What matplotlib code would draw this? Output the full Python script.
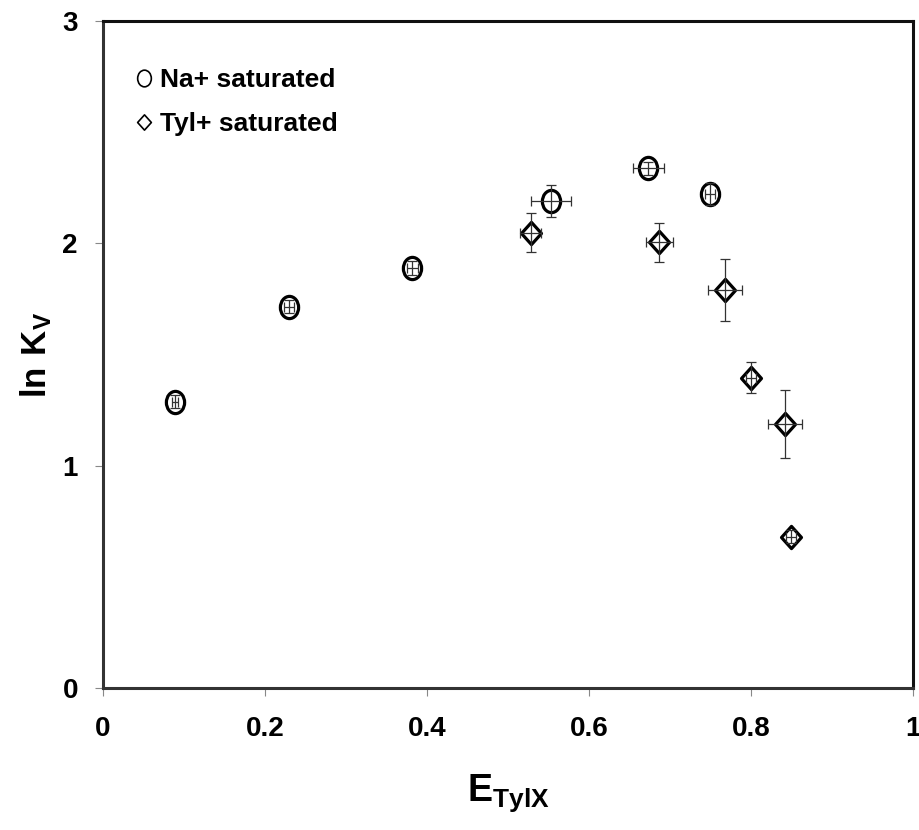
import numpy as np
import matplotlib
matplotlib.use("Agg")
import matplotlib.pyplot as plt
from matplotlib.path import Path
from matplotlib.lines import Line2D

plt.rcParams['font.family'] = ['Liberation Sans', 'DejaVu Sans']
plt.rcParams['font.weight'] = 'bold'
plt.rcParams['mathtext.fontset'] = 'custom'
plt.rcParams['mathtext.rm'] = 'Liberation Sans:bold'
plt.rcParams['mathtext.bf'] = 'Liberation Sans:bold'

# dati Na+ saturated
na_x = [0.089, 0.230, 0.382, 0.553, 0.673, 0.749]
na_y = [1.288, 1.715, 1.888, 2.190, 2.337, 2.220]
na_xerr = [0.004, 0.006, 0.007, 0.025, 0.019, 0.006]
na_yerr = [0.03, 0.03, 0.03, 0.071, 0.03, 0.05]

# dati Tyl+ saturated
tyl_x = [0.528, 0.687, 0.768, 0.800, 0.842, 0.849]
tyl_y = [2.048, 2.004, 1.790, 1.396, 1.187, 0.681]
tyl_xerr = [0.013, 0.017, 0.021, 0.006, 0.021, 0.006]
tyl_yerr = [0.089, 0.089, 0.14, 0.07, 0.154, 0.03]

# marker un po' schiacciati in orizzontale come nell'originale
circ = Path.unit_circle()
ellisse = Path(circ.vertices * np.array([0.82, 1.0]), circ.codes)
rombo = Path([(0, 1), (0.9, 0), (0, -1), (-0.9, 0), (0, 1)],
             [Path.MOVETO, Path.LINETO, Path.LINETO, Path.LINETO, Path.CLOSEPOLY])

fig = plt.figure(figsize=(9.19, 8.30), dpi=100)
ax = fig.add_axes([0.112, 0.171, 0.8815, 0.804])

ax.plot(na_x, na_y, linestyle='none', marker=ellisse, markersize=16,
        markerfacecolor='white', markeredgecolor='black', markeredgewidth=2.3, zorder=2)
ax.plot(tyl_x, tyl_y, linestyle='none', marker=rombo, markersize=16,
        markerfacecolor='white', markeredgecolor='black', markeredgewidth=2.3, zorder=2)

ax.errorbar(na_x, na_y, xerr=na_xerr, yerr=na_yerr, fmt='none', ecolor='#333333',
            elinewidth=0.9, capsize=3.5, capthick=0.9, zorder=3)
ax.errorbar(tyl_x, tyl_y, xerr=tyl_xerr, yerr=tyl_yerr, fmt='none', ecolor='#333333',
            elinewidth=0.9, capsize=3.5, capthick=0.9, zorder=3)

ax.set_xlim(0, 1)
ax.set_ylim(0, 3)
ax.set_xticks([0, 0.2, 0.4, 0.6, 0.8, 1])
ax.set_xticklabels(['0', '0.2', '0.4', '0.6', '0.8', '1'])
ax.set_yticks([0, 1, 2, 3])
ax.tick_params(axis='both', direction='out', length=6, width=0.8, color='#888888',
               labelsize=20)
ax.tick_params(axis='x', pad=14)
ax.tick_params(axis='y', pad=12)

for s in ax.spines.values():
    s.set_linewidth(2.2)
    s.set_color('#111111')
ax.spines['left'].set_color('#333333')
ax.spines['bottom'].set_color('#333333')

ax.set_xlabel(r'$\mathbf{E_{TylX}}$', fontsize=27, labelpad=22)
ax.set_ylabel(r'$\mathbf{ln\ K_{V}}$', fontsize=25, labelpad=6)

# legenda con marker sottili
h1 = Line2D([], [], linestyle='none', marker=ellisse, markersize=12,
            markerfacecolor='none', markeredgecolor='black', markeredgewidth=1.2)
h2 = Line2D([], [], linestyle='none', marker=rombo, markersize=11,
            markerfacecolor='none', markeredgecolor='black', markeredgewidth=1.2)
ax.legend([h1, h2], ['Na+ saturated', 'Tyl+ saturated'], loc='upper left',
          frameon=False, fontsize=19, handlelength=0.6, handletextpad=0.3,
          labelspacing=0.75, borderaxespad=0.0, bbox_to_anchor=(0.028, 0.945))

fig.savefig('out.png', dpi=100)
